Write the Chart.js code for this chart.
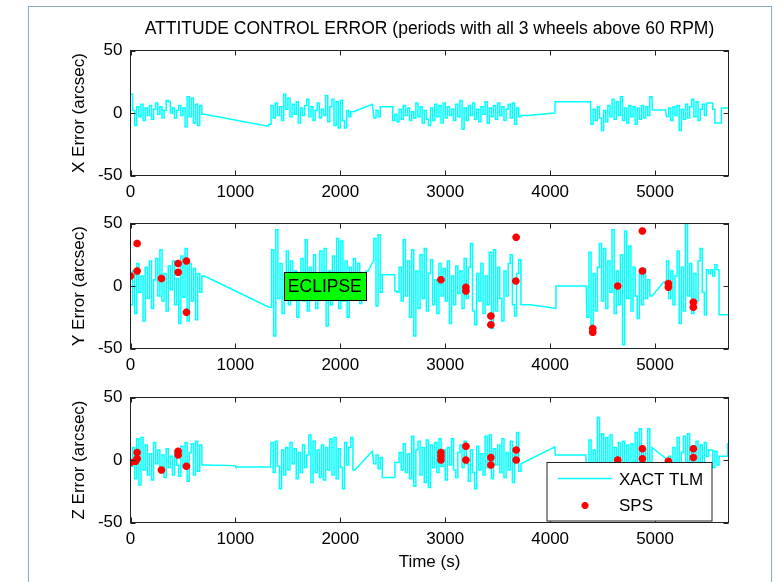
<!DOCTYPE html>
<html>
<head>
<meta charset="utf-8">
<script src="https://cdn.jsdelivr.net/npm/chart.js@4.4.0/dist/chart.umd.min.js"></script>
<style>
html,body{margin:0;padding:0;background:#fff;}
body{width:780px;height:582px;position:relative;overflow:hidden;}
#frame{position:absolute;left:28px;top:6px;width:744px;height:600px;border:1px solid #8ea6c8;border-bottom:none;box-sizing:border-box;}
canvas{position:absolute;left:0;}
</style>
</head>
<body>
<div id="frame"></div>
<canvas id="cX" width="780" height="200" style="top:0px"></canvas>
<canvas id="cY" width="780" height="174" style="top:200px"></canvas>
<canvas id="cZ" width="780" height="208" style="top:374px"></canvas>
<script>
// ---------- DATA ----------
const titleText = 'ATTITUDE CONTROL ERROR (periods with all 3 wheels above 60 RPM)';
const traceLabel = 'XACT TLM';
const spsLabel = 'SPS';
const xAxisTitle = 'Time (s)';
const yAxisTitles = ['X Error (arcsec)', 'Y Error (arcsec)', 'Z Error (arcsec)'];
const xTickValues = [0, 1000, 2000, 3000, 4000, 5000];
const xTickLabels = ['0', '1000', '2000', '3000', '4000', '5000'];
const yTickValues = [-50, 0, 50];
const yTickLabels = ['-50', '0', '50'];
const timeMin = 0, timeMax = 5700;
const sampleStep = 20; // s between telemetry samples in the noisy stretches
const eclipseText = 'ECLIPSE';
const eclipseAt = [1500, 0];

// X error telemetry: segment start times, segment samples, and connecting points [t, v]
const xStarts = [0, 1320, 2320, 4390, 5110];
const xSeg1 = [15,2,-10,5,-3,7,-6,4,-2,6,-5,3,8,-1,5,-4,2,10,9,0,4,-4,2,6,-2,4,-11,13,-3,12,-8,7,-10,6,-1];
const xSeg2 = [-9,6,-4,8,-2,5,-6,15,3,12,-3,7,-1,9,-8,4,-2,6,11,-3,5,-6,2,8,-4,3,-2,14,-7,5,11,-10,9,-12,10,-6,-12,2,-3,1];
const xSeg3 = [-4,2,-3,5,5,5,5,5,5,-6,-1,-7,3,-5,6,-2,4,-6,1,-4,8,-3,5,-8,2,-5,-10,4,-6,7,-3,6,-8,8,-4,5,-2,3,-6,7,-3,10,-13,4,-6,6,-2,8,-5,3,-7,5,-1,9,-8,4,-3,6,-5,8,-2,5,-6,3,7,-4,8,-9,4,-3];
const xSeg4 = [-9,3,-6,5,-4,-14,2,-7,6,-3,11,-5,9,-2,13,-6,4,-8,6,-3,5,-9,4,-5,6,-4,5,-2,13];
const xSeg5 = [-3,4,-6,5,-2,6,-14,3,-5,7,-4,5,11,-3,9,-6,3,7,-2,8,8,8,3,-8,-8,-8];
const xLink1 = [[705,-1],[1310,-10.5]];
const xLink2 = [[2125,1],[2305,7]];
const xLink3 = [[3725,-2],[3780,-2],[4045,0],[4048,9],[4385,9]];
const xLink4 = [[4975,2.5],[5100,2.5]];
const xLink5 = [[5632,4],[5700,4]];

// Y error telemetry
const yStarts = [0, 1325, 2320, 4350, 5090];
const ySeg1 = [-15,12,-22,18,-5,8,-28,15,-10,20,-18,5,22,-8,29,-12,10,-20,16,-3,20,-15,6,-30,24,-9,30,-28,18,-12,14,-27,10,-5,8];
const ySeg2 = [-17,29,-40,45,-10,18,-22,10,28,-15,20,-5,12,-25,8,22,-12,37,-20,15,-8,25,-18,5,28,-10,30,-32,12,-15,24,-8,38,-18,36,-12,20,-25,15,-6,22,-10,18,-14,10,-5,12];
const ySeg3 = [38,-16,41,-5,9,9,9,9,9,9,-4,-5,15,-12,37,-8,20,-25,29,-40,12,-18,25,-10,30,-20,10,21,-15,5,-22,18,-8,14,-12,20,-30,8,-15,16,-6,12,-18,22,-10,15,34,-20,-31,10,-12,18,-22,8,-15,27,-34,29,-20,15,-10,-28,12,-8,18,25,-15,-24,10,21];
const ySeg4 = [-25,27,-38,10,-20,15,34,-12,30,-18,20,-5,45,-22,12,-15,25,-47,44,-10,32,-20,15,-8,-26,10,-15,14,-10,5,-8];
const ySeg5 = [3,20,-10,12,-15,8,28,-30,15,-20,50,-8,18,-22,10,-12,20,30,-5,-23,13,10,13,8,17,13,-23];
const yLink1 = [[705,8],[1320,-17]];
const yLink2 = [[2268,12],[2315,20]];
const yLink3 = [[3722,-15],[3810,-15],[3985,-17],[4052,-18],[4055,0],[4345,0]];
const yLink4 = [[4972,-8],[5080,3]];
const yLink5 = [[5700,-23]];

// Z error telemetry
const zStarts = [0, 1340, 2320, 4350, 5130];
const zSeg1 = [-5,10,-15,17,-20,18,-8,12,-12,5,-16,14,-3,8,-10,4,-14,9,-6,3,-12,7,-4,-13,11,-6,14,-17,6,13,-12,15,-9,12,-4];
const zSeg2 = [14,-10,15,-5,-23,8,-12,10,-8,14,-3,9,-15,6,-10,12,-6,4,20,-18,15,-10,8,-14,12,-16,10,-8,17,-12,18,-15,9,-6,-23,14,-4,10,18,-8];
const zSeg3 = [-3,4,-7,2,-14,-14,-14,-14,-14,-14,-2,-2,6,-8,13,-10,5,-15,19,-21,8,15,-12,10,-18,16,-22,12,-6,14,-10,17,-5,8,-16,10,-4,17,-8,-14,6,12,-6,15,-3,-17,8,-10,-23,11,-8,5,-12,19,-6,20,-15,9,-4,12,-10,17,-14,6,-8,15,-18,4,22,-9];
const zSeg4 = [-10,16,-15,8,-5,34,-12,21,-8,18,-14,20,-6,10,-18,14,-4,15,-12,12,-8,13,-10,22,-6,25,-12,9,-5,25,-3];
const zSeg5 = [3,-6,10,-4,18,-8,6,19,-5,21,-10,8,-3,15,-6,12,-8,14,3,8,8,-6,7,-4,3];
const zLink1 = [[702,-4],[1000,-4.5],[1005,-5.5],[1335,-5.5]];
const zLink2 = [[2142,-8],[2305,7]];
const zLink3 = [[3722,-3],[4045,10.5],[4050,4],[4340,4]];
const zLink4 = [[4972,10],[5120,0]];
const zLink5 = [[5690,3],[5693,13],[5700,13]];

// SPS measurements
const ySpsTime = [0,63,63,295,454,454,533,533,2959,3197,3197,3435,3435,3673,3676,4406,4406,4644,4879,4879,5127,5127,5365,5365];
const ySpsErr  = [8,34,12,6,18,11,20,-21,5,-1,-4,-24,-31,4,39,-34,-37,0,44,12,2,-1,-13,-17];
const zSpsTime = [0,48,63,63,295,454,454,533,2959,2959,2959,3197,3197,3435,3435,3676,3676,4644,4879,4879,5127,5365,5365];
const zSpsErr  = [-2,-1,1,6,-8,7,4,-5,6,3,0,11,0,2,-4,8,0,0,9,1,-1,9,2];

// ---------- BUILD ----------
function buildTrace(starts, segs, links) {
  const pts = [];
  segs.forEach((seg, i) => {
    seg.forEach((v, j) => {
      const t = starts[i] + j * sampleStep;
      pts.push({x: t, y: v}, {x: t + sampleStep, y: v});
    });
    (links[i] || []).forEach(([t, v]) => pts.push({x: t, y: v}));
  });
  return pts;
}
function buildPoints(ts, vs) { return ts.map((t, i) => ({x: t, y: vs[i]})); }

const FONT = '"Liberation Sans", Arial, Helvetica, sans-serif';
Chart.defaults.font.family = FONT;
Chart.defaults.font.size = 17;
Chart.defaults.color = '#000';

const AX = '#222';

const axesBox = {
  id: 'axesBox',
  afterDatasetsDraw(chart) {
    const {ctx, chartArea: a, scales: {x, y}} = chart;
    ctx.save();
    ctx.strokeStyle = AX; ctx.lineWidth = 1;
    ctx.beginPath();
    x.ticks.forEach(t => {
      const p = Math.round(x.getPixelForValue(t.value)) + 0.5;
      ctx.moveTo(p, a.bottom); ctx.lineTo(p, a.bottom - 5);
      ctx.moveTo(p, a.top); ctx.lineTo(p, a.top + 5);
    });
    y.ticks.forEach(t => {
      const p = Math.round(y.getPixelForValue(t.value)) + 0.5;
      ctx.moveTo(a.left, p); ctx.lineTo(a.left + 5, p);
      ctx.moveTo(a.right, p); ctx.lineTo(a.right - 5, p);
    });
    ctx.stroke();
    ctx.strokeRect(a.left, a.top, a.right - a.left, a.bottom - a.top);
    ctx.restore();
  }
};

const eclipsePlugin = {
  id: 'eclipsePlugin',
  afterDatasetsDraw(chart) {
    const {ctx, scales: {x, y}} = chart;
    const px = x.getPixelForValue(eclipseAt[0]);
    const py = y.getPixelForValue(eclipseAt[1]);
    ctx.save();
    ctx.font = '17.5px ' + FONT;
    const w = ctx.measureText(eclipseText).width;
    const m = 4;
    ctx.fillStyle = '#00ff00';
    ctx.fillRect(Math.round(px - m) + 0.5, Math.round(py - 14) + 0.5, Math.round(w + 2 * m), 28);
    ctx.strokeStyle = '#000'; ctx.lineWidth = 1;
    ctx.strokeRect(Math.round(px - m) + 0.5, Math.round(py - 14) + 0.5, Math.round(w + 2 * m), 28);
    ctx.fillStyle = '#000'; ctx.textBaseline = 'middle'; ctx.textAlign = 'left';
    ctx.fillText(eclipseText, px, py + 1);
    ctx.restore();
  }
};

function drawStar(ctx, cx, cy, r) {
  ctx.beginPath();
  for (let k = 0; k < 4; k++) {
    const ang = k * Math.PI / 4;
    ctx.moveTo(cx - Math.cos(ang) * r, cy - Math.sin(ang) * r);
    ctx.lineTo(cx + Math.cos(ang) * r, cy + Math.sin(ang) * r);
  }
  ctx.stroke();
}

const legendPlugin = {
  id: 'legendPlugin',
  afterDatasetsDraw(chart) {
    const {ctx, chartArea: a} = chart;
    const ds = chart.data.datasets;
    const w = 165, h = 58.5;
    const r = a.right - 16.5, b = a.bottom - 1.5;
    const l = r - w, t = b - h;
    ctx.save();
    ctx.fillStyle = '#fff';
    ctx.fillRect(l, t, w, h);
    ctx.strokeStyle = AX; ctx.lineWidth = 1;
    ctx.strokeRect(l, t, w, h);
    // row 1 : line sample
    ctx.strokeStyle = ds[0].borderColor; ctx.lineWidth = 1.5;
    ctx.beginPath(); ctx.moveTo(l + 11, t + 16); ctx.lineTo(l + 65, t + 16); ctx.stroke();
    // row 2 : marker sample
    ctx.strokeStyle = ds[1].borderColor; ctx.lineWidth = 2.5;
    drawStar(ctx, l + 38, t + 43, 3.5);
    ctx.fillStyle = '#000'; ctx.font = '17px ' + FONT;
    ctx.textBaseline = 'middle'; ctx.textAlign = 'left';
    ctx.fillText(ds[0].label, l + 72, t + 17.5);
    ctx.fillText(ds[1].label, l + 72, t + 44);
    ctx.restore();
  }
};

function makeChart(id, yTitle, trace, sps, cfg) {
  const datasets = [{
    label: traceLabel, data: trace, showLine: true, borderColor: '#00ffff', backgroundColor: '#00ffff',
    borderWidth: 1.5, pointRadius: 0, tension: 0, order: 2
  }];
  if (sps) datasets.push({
    label: spsLabel, data: sps, showLine: false, pointStyle: 'star', pointRadius: 3.8,
    borderWidth: 2.6, borderColor: '#ff0000', backgroundColor: '#ff0000', order: 1
  });
  return new Chart(document.getElementById(id), {
    type: 'scatter',
    data: { datasets },
    plugins: cfg.plugins,
    options: {
      responsive: false, animation: false, events: [],
      layout: { padding: { top: cfg.padTop, right: 51.5, left: 0, bottom: 0 } },
      plugins: {
        legend: { display: false }, tooltip: { enabled: false },
        title: cfg.title || { display: false }
      },
      scales: {
        x: {
          type: 'linear', min: timeMin, max: timeMax,
          afterBuildTicks: s => { s.ticks = xTickValues.map(v => ({ value: v })); },
          afterFit: s => { s.height = cfg.xHeight; },
          grid: { display: false, drawTicks: false },
          border: { display: false },
          ticks: { padding: 7, maxRotation: 0, autoSkip: false, color: '#000',
                   callback: (v, i) => xTickLabels[i] },
          title: cfg.xTitle || { display: false }
        },
        y: {
          type: 'linear', min: -50, max: 50,
          afterBuildTicks: s => { s.ticks = yTickValues.map(v => ({ value: v })); },
          afterFit: s => { s.width = 130.5; },
          grid: { display: false, drawTicks: false },
          border: { display: false },
          ticks: { padding: 8, autoSkip: false, color: '#000',
                   callback: (v, i) => yTickLabels[i] },
          title: { display: true, text: yTitle, color: '#000', font: { size: 17 }, padding: { top: 69.5, bottom: 0 } }
        }
      }
    }
  });
}

makeChart('cX', yAxisTitles[0], buildTrace(xStarts, [xSeg1, xSeg2, xSeg3, xSeg4, xSeg5], [xLink1, xLink2, xLink3, xLink4, xLink5]), null, {
  padTop: 0, xHeight: 24.5, plugins: [axesBox],
  title: { display: true, text: titleText, color: '#000', fullSize: false, font: { size: 17.5, weight: 'normal', lineHeight: 1.2 }, padding: { top: 19, bottom: 10.5 } }
});
makeChart('cY', yAxisTitles[1], buildTrace(yStarts, [ySeg1, ySeg2, ySeg3, ySeg4, ySeg5], [yLink1, yLink2, yLink3, yLink4, yLink5]), buildPoints(ySpsTime, ySpsErr), {
  padTop: 23.5, xHeight: 25.5, plugins: [axesBox, eclipsePlugin]
});
makeChart('cZ', yAxisTitles[2], buildTrace(zStarts, [zSeg1, zSeg2, zSeg3, zSeg4, zSeg5], [zLink1, zLink2, zLink3, zLink4, zLink5]), buildPoints(zSpsTime, zSpsErr), {
  padTop: 23.5, xHeight: 59.5, plugins: [axesBox, legendPlugin],
  xTitle: { display: true, text: xAxisTitle, color: '#000', font: { size: 17 }, padding: { top: 0, bottom: 9 } }
});
</script>
</body>
</html>
